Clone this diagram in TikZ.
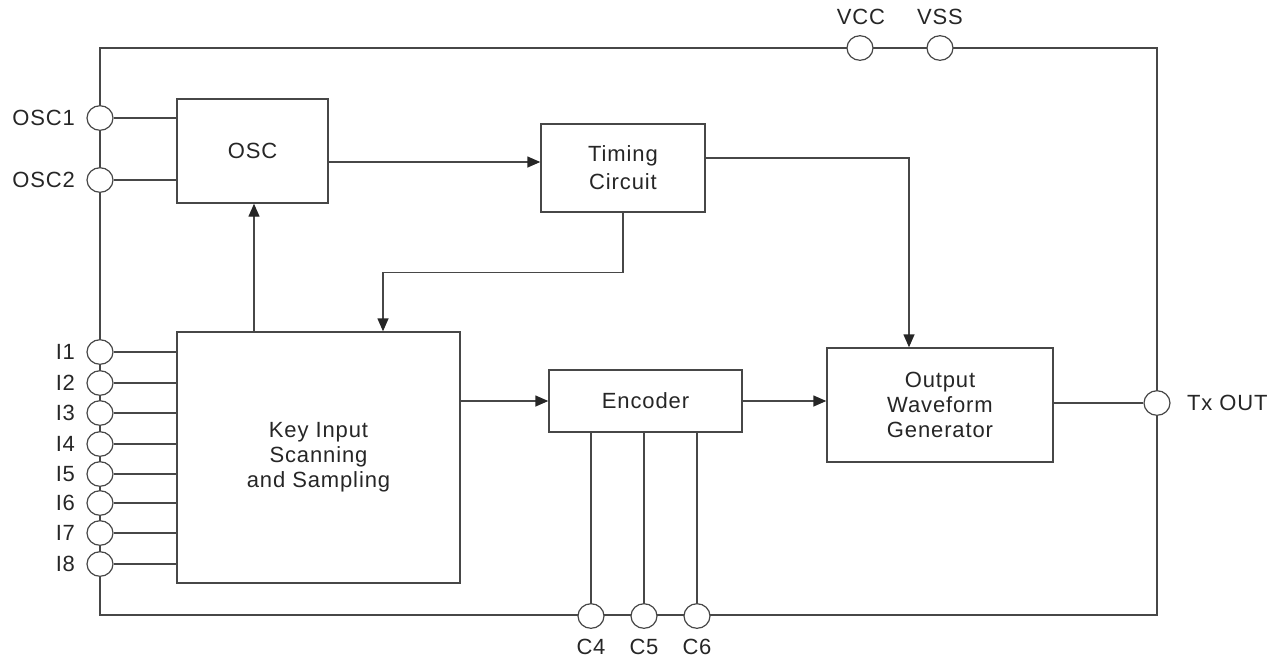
\documentclass[tikz,border=0pt]{standalone}
\usepackage{fontspec}
\setmainfont{Liberation Sans}[LetterSpace=4]
\usetikzlibrary{shapes.geometric,arrows.meta,calc}
\definecolor{ink}{HTML}{262626}
\tikzset{
  wire/.style={draw=ink!85, line width=0.7pt},
  arr/.style={wire, -{Triangle[length=6.5pt,width=5.5pt,color=ink]}},
  blk/.style={draw=ink!85, line width=0.7pt, fill=white, rectangle, inner sep=0pt, align=center, font=\fontsize{11}{12.5}\selectfont, text=ink},
  pinc/.style={draw=ink!85, line width=0.6pt, fill=white, ellipse, inner sep=0pt, minimum width=13pt, minimum height=12.3pt},
  lab/.style={inner sep=0pt, font=\fontsize{11}{12.5}\selectfont, text=ink}
}
\begin{document}
\begin{tikzpicture}[x=0.5pt,y=-0.5pt]
\useasboundingbox (0,0) rectangle (1282,661);
% frame
\coordinate (ftl) at (100,48);
\coordinate (fbr) at (1157,615);
\draw[wire] (ftl) rectangle (fbr);
% blocks
\node[blk, minimum width=75.5pt, minimum height=52pt] (OSC) at (252.5,151) {OSC};
\node[blk, minimum width=82pt, minimum height=44pt, font=\fontsize{11}{14}\selectfont] (TIM) at (623,168) {Timing\\Circuit};
\node[blk, minimum width=141.5pt, minimum height=125.5pt] (KEY) at (318.5,457.5) {Key Input\\Scanning\\and Sampling};
\node[blk, minimum width=96.5pt, minimum height=31pt] (ENC) at (645.5,401) {Encoder};
\node[blk, minimum width=113pt, minimum height=57pt, font=\fontsize{11}{12.3}\selectfont] (OWG) at (940,405) {Output\\Waveform\\Generator};
% pins
\node[pinc] (osc1) at (100,118) {};
\node[pinc] (osc2) at (100,180) {};
\foreach \n/\y in {1/352,2/383,3/413,4/444,5/474,6/503,7/533,8/564}{
  \node[pinc] (i\n) at (100,\y) {};
  \node[lab, anchor=east] (li\n) at ([xshift=-5.5pt]i\n.west) {I\n};
  \draw[wire] (i\n) -- (i\n -| KEY.west);
}
\node[lab, anchor=east] (losc1) at ([xshift=-5.5pt]osc1.west) {OSC1};
\node[lab, anchor=east] (losc2) at ([xshift=-5.5pt]osc2.west) {OSC2};
\node[pinc] (vcc) at (860,48) {};
\node[pinc] (vss) at (940,48) {};
\node[lab] (lvcc) at (861,17) {VCC};
\node[lab] (lvss) at (940,17) {VSS};
\node[pinc] (tx) at (1157,403) {};
\node[lab, anchor=west] (ltx) at ([xshift=8pt]tx.east) {Tx OUT};
\foreach \n/\x in {4/591,5/644,6/697}{
  \node[pinc] (c\n) at (\x,616) {};
  \node[lab] (lc\n) at (\x,647) {C\n};
  \draw[wire] (c\n |- ENC.south) -- (c\n);
}
% connectors
\draw[wire] (osc1) -- (osc1 -| OSC.west);
\draw[wire] (osc2) -- (osc2 -| OSC.west);
\draw[arr] ([yshift=-5.5pt]OSC.east) -- ([yshift=-5.5pt]OSC.east -| TIM.west);
\draw[arr] ([yshift=5pt]TIM.east) -| ([xshift=-15.5pt]OWG.north);
\draw[arr] (TIM.south) -- ++(0,60) -| ([xshift=32.25pt]KEY.north);
\draw[arr] ([xshift=-32.25pt]KEY.north) -- ([xshift=-32.25pt]KEY.north |- OSC.south);
\draw[arr] (KEY.east |- ENC.west) -- (ENC.west);
\draw[arr] (ENC.east) -- (ENC.east -| OWG.west);
\draw[wire] (tx -| OWG.east) -- (tx);
\end{tikzpicture}
\end{document}
